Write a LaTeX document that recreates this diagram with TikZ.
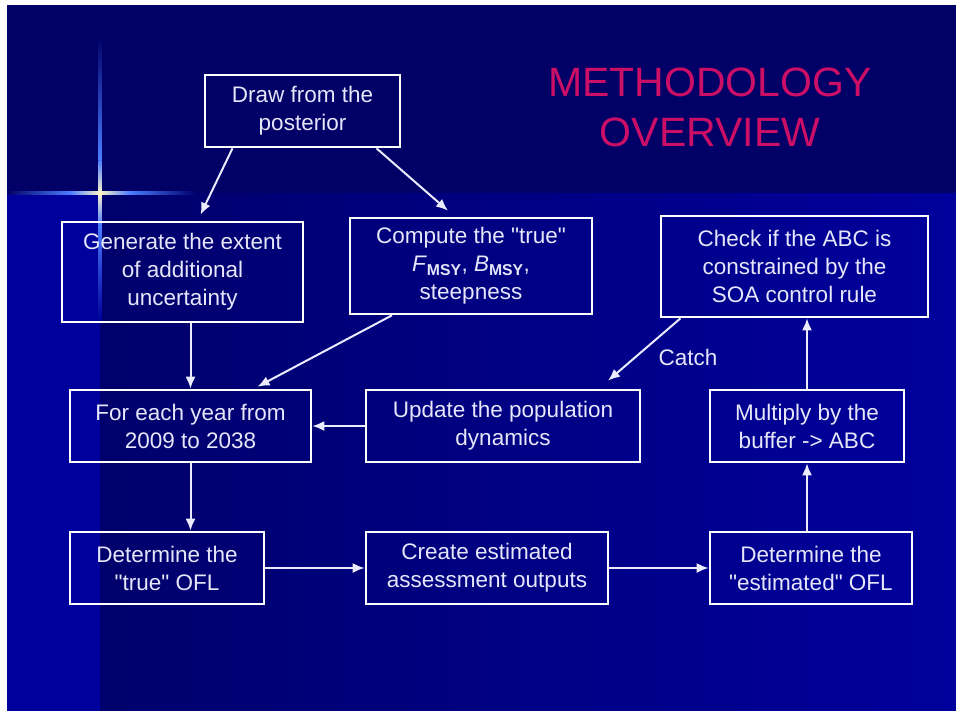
\documentclass[tikz,border=0pt]{standalone}
\usepackage{fontspec}
\setmainfont{Liberation Sans}
\usetikzlibrary{calc,arrows.meta}

\definecolor{navytop}{HTML}{000066}
\definecolor{navylow}{HTML}{00006C}
\definecolor{bluelow}{HTML}{00009C}
\definecolor{glow}{HTML}{4A7DFF}
\definecolor{spark}{HTML}{FFF6C8}
\definecolor{boxtext}{HTML}{E6E6FA}
\definecolor{titlecol}{HTML}{CC0F66}

\newcommand{\dq}{\textquotedbl}
\newcommand{\msy}[1]{\textit{#1}\textsubscript{\textbf{MSY}}}

\begin{document}
\begin{tikzpicture}[x=1pt,y=-1pt,
    box/.style={draw=white,line width=2.6pt,text=boxtext,align=center,inner sep=0pt,
                font=\fontsize{22.5}{28}\selectfont},
    link/.style={line width=2pt,draw=white!92!blue,-{Latex[length=12pt,width=10pt]}}]
    % slide background
    \useasboundingbox (0,0) rectangle (956,710);
    \fill[white] (0,0) rectangle (956,710);
    \fill[navytop] (7,5) rectangle (957,193);
    \fill[bluelow] (7,193) rectangle (100,711);
    \shade[left color=navylow,right color=bluelow] (100,193) rectangle (957,711);
    % sparkle
    \shade[left color=navytop,right color=glow] (7,191.5) rectangle (70,194.5);
    \shade[left color=glow,right color=spark] (70,191.5) rectangle (100,194.5);
    \shade[left color=spark,right color=glow] (100,191.5) rectangle (130,194.5);
    \shade[left color=glow,right color=navylow] (130,191.5) rectangle (195,194.5);
    \shade[top color=navytop,bottom color=glow] (98.5,35) rectangle (101.5,160);
    \shade[top color=glow,bottom color=spark] (98.5,160) rectangle (101.5,193);
    \shade[top color=spark,bottom color=glow] (98.5,193) rectangle (101.5,225);
    \shade[top color=glow,bottom color=bluelow] (98.5,225) rectangle (101.5,320);

    \node[text=titlecol,font=\fontsize{41}{50}\selectfont,align=center] (title) at (710,107) {METHODOLOGY\\OVERVIEW};

    \node[box,minimum width=195pt,minimum height=72pt] (draw) at (302.5,111) {Draw from the\\posterior};
    \node[box,minimum width=241pt,minimum height=100pt] (gen) at (182.5,272) {Generate the extent\\of additional\\uncertainty};
    \node[box,minimum width=242pt,minimum height=96pt] (comp) at (471,266) {Compute the \dq true\dq\\\msy{F}, \msy{B},\\steepness};
    \node[box,minimum width=267pt,minimum height=101pt] (check) at (794.5,266.5) {Check if the ABC is\\constrained by the\\SOA control rule};
    \node[box,minimum width=241pt,minimum height=72pt] (year) at (190.5,426) {For each year from\\2009 to 2038};
    \node[box,minimum width=274pt,minimum height=72pt] (update) at (503,426) {Update the population\\dynamics};
    \node[box,minimum width=194pt,minimum height=72pt] (mult) at (807,426) {Multiply by the\\buffer -> ABC};
    \node[box,minimum width=194pt,minimum height=72pt] (oflt) at (167,568) {Determine the\\\dq true\dq{} OFL};
    \node[box,minimum width=242pt,minimum height=72pt] (create) at (487,568) {Create estimated\\assessment outputs};
    \node[box,minimum width=202pt,minimum height=72pt] (ofle) at (811,568) {Determine the\\\dq estimated\dq{} OFL};

    \draw[link] ([xshift=-70pt]draw.south) -- ([xshift=18pt,yshift=6pt]gen.north);
    \draw[link] ([xshift=74pt]draw.south) -- ([xshift=-23pt,yshift=6pt]comp.north);
    \draw[link] (gen.south -| year.north) -- (year.north);
    \draw[link] ([xshift=-79pt]comp.south) -- ([xshift=67pt,yshift=2pt]year.north);
    \draw[link] ([xshift=-114pt]check.south) -- ([xshift=105pt,yshift=8pt]update.north)
        node[midway,right=10pt,yshift=-8pt,text=boxtext,font=\fontsize{22.5}{28}\selectfont] (catch) {Catch};
    \draw[link] (update.west) -- (year.east);
    \draw[link] (year.south) -- (year.south |- oflt.north);
    \draw[link] (oflt.east) -- (create.west);
    \draw[link] (create.east) -- (ofle.west);
    \draw[link] (ofle.north -| mult.south) -- (mult.south);
    \draw[link] (mult.north) -- (mult.north |- check.south);
\end{tikzpicture}
\end{document}
